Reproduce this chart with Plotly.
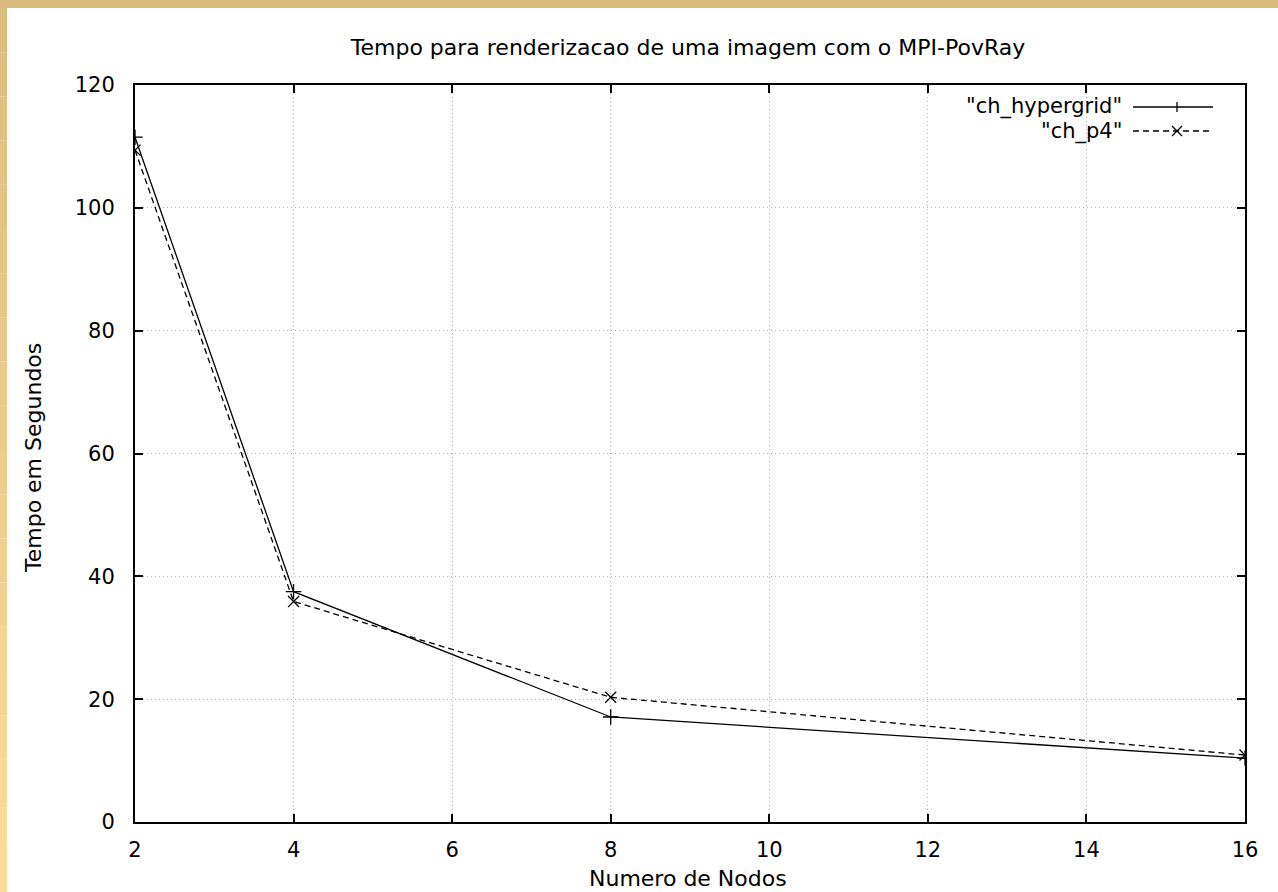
import plotly.graph_objects as go

nodes = [2, 4, 8, 16]
ch_hypergrid = [111.5, 37.5, 17.1, 10.4]
ch_p4 = [109.4, 35.9, 20.3, 10.9]
x_ticks = [2, 4, 6, 8, 10, 12, 14, 16]
y_ticks = [0, 20, 40, 60, 80, 100, 120]

W, H = 1278, 892
L, R, T, B = 135, 33, 85, 70
PW, PH = W - L - R, H - T - B
FONT = "DejaVu Sans, Liberation Sans, Arial, sans-serif"
FS = 21
FT = 22

def px(x):
    return (x - L) / PW

def py(y):
    return (H - B - y) / PH

fig = go.Figure()
fig.add_trace(go.Scatter(
    x=nodes, y=ch_hypergrid, mode="lines+markers", name='"ch_hypergrid"',
    line=dict(color="black", width=1.3),
    marker=dict(symbol="cross-thin", size=11, line=dict(color="black", width=1.3)),
))
fig.add_trace(go.Scatter(
    x=nodes, y=ch_p4, mode="lines+markers", name='"ch_p4"',
    line=dict(color="black", width=1.3, dash="6px,4px"),
    marker=dict(symbol="x-thin", size=11, line=dict(color="black", width=1.3)),
))

shapes = []
# page border (top and left)
shapes.append(dict(type="rect", xref="paper", yref="paper", x0=px(0), x1=px(W), y0=py(0), y1=py(8),
                   fillcolor="#D9BC7E", line=dict(width=0), layer="above"))
n = 20
c0 = (0xDA, 0xBE, 0x80)
c1 = (0xFD, 0xDA, 0x9A)
for i in range(n):
    t = i / (n - 1)
    col = "rgb(%d,%d,%d)" % tuple(round(c0[k] + (c1[k] - c0[k]) * t) for k in range(3))
    shapes.append(dict(type="rect", xref="paper", yref="paper", x0=px(0), x1=px(7),
                       y0=py(8 + (H - 8) * i / n), y1=py(8 + (H - 8) * (i + 1) / n),
                       fillcolor=col, line=dict(width=0), layer="above"))
# legend backing (hides grid under the key)
shapes.append(dict(type="rect", xref="paper", yref="paper", x0=px(955), x1=px(1228), y0=py(87), y1=py(142),
                   fillcolor="white", line=dict(width=0), layer="between"))
# legend samples
ly1, ly2 = 107, 131
shapes.append(dict(type="line", xref="paper", yref="paper", x0=px(1133), x1=px(1213), y0=py(ly1), y1=py(ly1),
                   line=dict(color="black", width=1.3)))
shapes.append(dict(type="line", xref="paper", yref="paper", x0=px(1177), x1=px(1177), y0=py(ly1 - 5), y1=py(ly1 + 5),
                   line=dict(color="black", width=1.3)))
shapes.append(dict(type="line", xref="paper", yref="paper", x0=px(1133), x1=px(1213), y0=py(ly2), y1=py(ly2),
                   line=dict(color="black", width=1.3, dash="6px,4px")))
shapes.append(dict(type="line", xref="paper", yref="paper", x0=px(1172), x1=px(1182), y0=py(ly2 - 5), y1=py(ly2 + 5),
                   line=dict(color="black", width=1.3)))
shapes.append(dict(type="line", xref="paper", yref="paper", x0=px(1172), x1=px(1182), y0=py(ly2 + 5), y1=py(ly2 - 5),
                   line=dict(color="black", width=1.3)))

annotations = [
    dict(text='"ch_hypergrid"', xref="paper", yref="paper", x=px(1124), y=py(ly1), xanchor="right",
         yanchor="middle", showarrow=False, font=dict(family=FONT, size=FS, color="black")),
    dict(text='"ch_p4"', xref="paper", yref="paper", x=px(1124), y=py(ly2), xanchor="right",
         yanchor="middle", showarrow=False, font=dict(family=FONT, size=FS, color="black")),
    dict(text="Numero de Nodos", xref="paper", yref="paper", x=(688 - L) / PW, y=0, yshift=-(878 - (H - B)),
         xanchor="center", yanchor="middle", showarrow=False, font=dict(family=FONT, size=FT, color="black")),
    dict(text="Tempo em Segundos", xref="paper", yref="paper", x=0, y=py(458), xshift=-(L - 33),
         xanchor="center", yanchor="middle", textangle=-90, showarrow=False,
         font=dict(family=FONT, size=FT, color="black")),
]

axis_common = dict(
    showline=True, linecolor="black", linewidth=2, mirror="ticks",
    ticks="inside", ticklen=8, tickwidth=1.5, tickcolor="black",
    showgrid=True, gridcolor="#b4b4b4", gridwidth=1, griddash="1px,3px",
    zeroline=False, tickfont=dict(family=FONT, size=FS, color="black"),
)

fig.update_layout(
    width=W, height=H,
    margin=dict(l=L, r=R, t=T, b=B, autoexpand=False),
    paper_bgcolor="white", plot_bgcolor="white",
    showlegend=False,
    title=dict(text="Tempo para renderizacao de uma imagem com o MPI-PovRay",
               x=688 / W, xanchor="center",
               y=1 - 47 / H, yanchor="middle", font=dict(family=FONT, size=FT, color="black")),
    xaxis=dict(range=[2, 16], tickvals=x_ticks, ticklabelstandoff=8, **axis_common),
    yaxis=dict(range=[0, 120], tickvals=y_ticks, ticklabelstandoff=14, **axis_common),
    shapes=shapes, annotations=annotations,
)

fig.write_html("out.html", config={"displayModeBar": False},
               post_script="document.body.style.margin='0';document.body.style.padding='0';")
